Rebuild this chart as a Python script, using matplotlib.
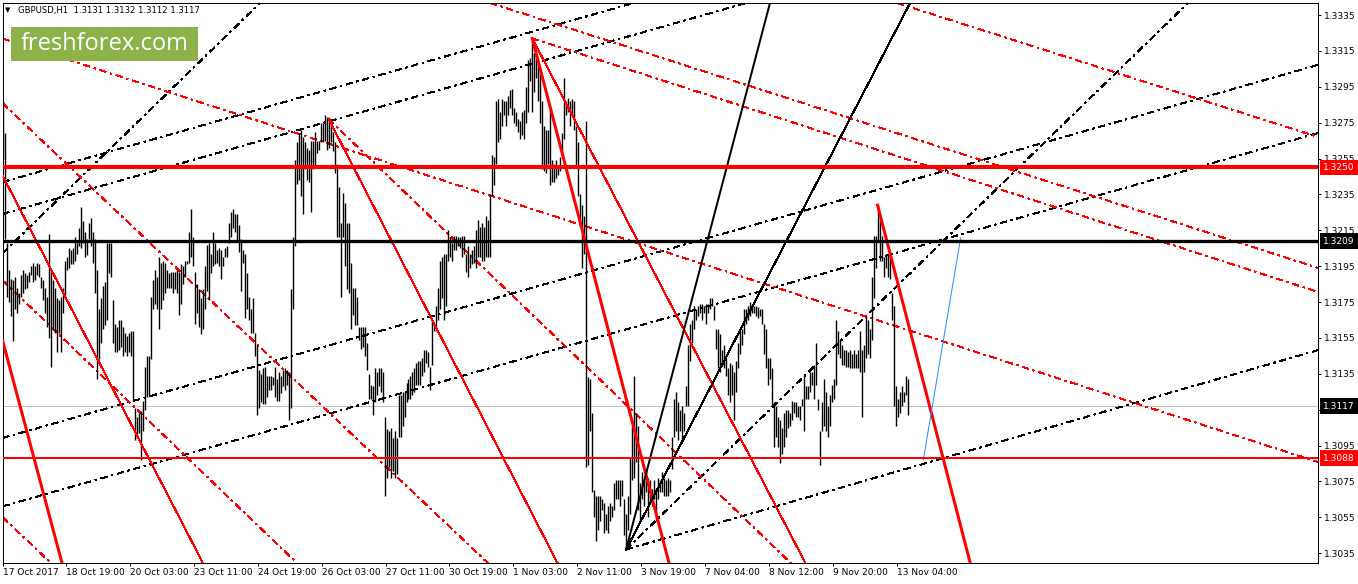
import numpy as np
import matplotlib
matplotlib.use("Agg")
import matplotlib.pyplot as plt
import matplotlib.transforms as mtransforms
from matplotlib.patches import Rectangle

# GBPUSD H1 bars, 17 Oct - 13 Nov 2017
# values are the quote's last four decimals: 3287 -> 1.3287
bar_high = [
    3287, 3269, 3208, 3193, 3188, 3187, 3189, 3183, 3180, 3190, 3193, 3191, 3190, 3192, 3195, 3197,
    3195, 3197, 3196, 3189, 3187, 3183, 3178, 3213, 3193, 3187, 3183, 3177, 3176, 3178, 3183, 3198,
    3200, 3205, 3204, 3205, 3211, 3208, 3216, 3228, 3220, 3214, 3210, 3219, 3222, 3214, 3210, 3193,
    3171, 3177, 3184, 3186, 3208, 3208, 3208, 3176, 3163, 3161, 3165, 3165, 3161, 3158, 3156, 3158,
    3159, 3159, 3116, 3111, 3113, 3114, 3120, 3139, 3145, 3145, 3178, 3187, 3193, 3189, 3200, 3197,
    3198, 3197, 3193, 3191, 3192, 3192, 3192, 3193, 3192, 3196, 3195, 3198, 3198, 3214,
    3227, 3211, 3192, 3185, 3182, 3177, 3182, 3195, 3207, 3208, 3202, 3214, 3208, 3204, 3205, 3204,
    3200, 3205, 3206, 3219, 3225, 3227, 3224, 3224, 3218, 3210, 3204, 3202, 3191, 3178, 3171, 3177,
    3158, 3151, 3137, 3135, 3138, 3139, 3134, 3134, 3134, 3133, 3139, 3132, 3136, 3134, 3137, 3138,
    3137, 3136, 3182, 3211, 3254, 3264, 3269, 3271, 3267, 3264, 3261, 3260, 3265, 3265, 3270, 3265,
    3265, 3275, 3275, 3279, 3278, 3278, 3276, 3270, 3264, 3252, 3239, 3219, 3236, 3230, 3219, 3219,
    3197, 3183, 3183, 3178, 3161, 3161, 3161, 3161, 3152, 3135, 3129, 3128,
    3138, 3136, 3138, 3138, 3136, 3111, 3104, 3103, 3105, 3099, 3103, 3099, 3123, 3123, 3125, 3125,
    3130, 3132, 3134, 3136, 3138, 3141, 3142, 3142, 3144, 3148, 3148, 3147, 3139, 3165, 3163, 3173,
    3183, 3198, 3200, 3202, 3202, 3215, 3211, 3208, 3212, 3212, 3211, 3211, 3212, 3212,
    3202, 3206, 3202, 3204, 3206, 3215, 3221, 3217, 3219, 3217, 3223, 3221, 3235, 3257, 3256, 3287,
    3288, 3281, 3288, 3287, 3287, 3290, 3293, 3294, 3283, 3281, 3277, 3276, 3281, 3282, 3295, 3310,
    3311, 3322, 3314, 3312, 3310, 3306, 3287, 3273, 3271, 3271, 3282, 3254, 3252, 3254, 3250, 3256,
    3269, 3300, 3287, 3289, 3287, 3288, 3287, 3273, 3264, 3235, 3229, 3223, 3276, 3133, 3132, 3113,
    3070, 3067, 3067, 3067, 3065, 3063, 3057, 3061, 3063, 3061, 3074, 3076, 3076, 3076, 3076, 3065,
    3057, 3067, 3088, 3106, 3134, 3113, 3106, 3074, 3080, 3076, 3082, 3077, 3076, 3071, 3076, 3071,
    3077, 3076, 3080, 3077, 3076, 3077, 3076, 3100, 3121, 3125, 3119, 3115, 3117, 3113, 3128, 3151,
    3163, 3165, 3173, 3171, 3173,
    3174, 3174, 3173, 3174, 3174, 3177, 3177, 3173, 3160, 3160, 3157, 3148, 3151, 3144, 3138, 3141,
    3140, 3136, 3142, 3152, 3159, 3160, 3171, 3171, 3173, 3175, 3174, 3173, 3173, 3172, 3171, 3171,
    3163, 3160, 3144, 3144, 3138, 3119, 3117, 3111, 3109, 3105, 3113, 3115, 3115, 3113, 3120, 3119,
    3119, 3117, 3117, 3121, 3134, 3128, 3128, 3136, 3136, 3140, 3152, 3121, 3103, 3119, 3132, 3125,
    3117, 3123, 3129, 3132, 3165, 3159, 3154, 3151, 3148, 3148, 3147, 3148, 3146, 3148, 3146, 3148,
    3159, 3148, 3151, 3167, 3165, 3160, 3189, 3212, 3212, 3229, 3223, 3212, 3200, 3202, 3202, 3200,
    3180, 3173, 3128, 3121, 3125, 3128, 3125, 3134, 3132,
]
bar_low = [
    3255, 3210, 3178, 3175, 3167, 3153, 3171, 3169, 3174, 3178, 3180, 3182, 3183, 3186, 3190, 3186,
    3187, 3190, 3189, 3183, 3176, 3169, 3161, 3155, 3139, 3160, 3158, 3147, 3158, 3147, 3169, 3177,
    3193, 3194, 3196, 3196, 3198, 3202, 3206, 3205, 3208, 3200, 3201, 3210, 3206, 3197, 3180, 3132,
    3143, 3152, 3160, 3162, 3165, 3191, 3189, 3152, 3147, 3147, 3148, 3150, 3145, 3147, 3145, 3147,
    3145, 3120, 3098, 3099, 3102, 3087, 3103, 3115, 3122, 3123, 3143, 3171, 3174, 3171, 3160, 3171,
    3176, 3180, 3183, 3183, 3183, 3180, 3182, 3180, 3168, 3174, 3185, 3189, 3196, 3197,
    3200, 3195, 3163, 3169, 3161, 3157, 3160, 3171, 3181, 3176, 3191, 3195, 3196, 3197, 3195, 3188,
    3195, 3200, 3200, 3208, 3211, 3216, 3214, 3209, 3203, 3181, 3197, 3166, 3171, 3165, 3158, 3158,
    3145, 3112, 3116, 3119, 3118, 3118, 3122, 3126, 3126, 3129, 3122, 3120, 3120, 3124, 3128, 3126,
    3129, 3109, 3116, 3171, 3206, 3241, 3243, 3234, 3224, 3249, 3243, 3242, 3225, 3249, 3250, 3258,
    3260, 3264, 3264, 3265, 3260, 3261, 3264, 3259, 3247, 3211, 3211, 3178, 3211, 3195, 3182, 3180,
    3160, 3168, 3162, 3162, 3154, 3149, 3150, 3145, 3137, 3121, 3121, 3112,
    3119, 3123, 3128, 3125, 3119, 3067, 3077, 3083, 3077, 3081, 3077, 3079, 3100, 3100, 3106, 3111,
    3119, 3121, 3121, 3123, 3125, 3129, 3129, 3129, 3134, 3136, 3141, 3139, 3126, 3140, 3159, 3159,
    3165, 3171, 3177, 3165, 3173, 3198, 3200, 3198, 3204, 3204, 3206, 3205, 3200, 3202,
    3192, 3189, 3194, 3196, 3197, 3194, 3200, 3200, 3198, 3198, 3200, 3200, 3200, 3234, 3240, 3252,
    3264, 3266, 3273, 3279, 3273, 3279, 3283, 3279, 3275, 3273, 3270, 3266, 3268, 3266, 3275, 3281,
    3298, 3281, 3292, 3300, 3287, 3275, 3249, 3248, 3247, 3252, 3240, 3242, 3242, 3244, 3246, 3248,
    3256, 3266, 3279, 3281, 3273, 3279, 3271, 3250, 3234, 3217, 3194, 3202, 3083, 3084, 3103, 3069,
    3055, 3042, 3048, 3053, 3059, 3046, 3048, 3046, 3053, 3055, 3059, 3065, 3065, 3061, 3067, 3045,
    3037, 3048, 3057, 3076, 3077, 3086, 3059, 3053, 3065, 3061, 3069, 3055, 3063, 3061, 3065, 3053,
    3065, 3069, 3069, 3067, 3067, 3067, 3069, 3082, 3100, 3103, 3098, 3103, 3098, 3103, 3117, 3117,
    3142, 3152, 3160, 3165, 3167,
    3169, 3165, 3169, 3163, 3169, 3171, 3173, 3165, 3149, 3138, 3136, 3140, 3138, 3134, 3123, 3119,
    3123, 3109, 3125, 3138, 3146, 3151, 3157, 3163, 3165, 3167, 3169, 3169, 3167, 3166, 3167, 3163,
    3146, 3138, 3129, 3132, 3117, 3094, 3100, 3094, 3085, 3090, 3094, 3100, 3105, 3106, 3109, 3113,
    3111, 3111, 3109, 3117, 3103, 3121, 3121, 3125, 3129, 3121, 3129, 3115, 3084, 3103, 3106, 3103,
    3100, 3106, 3119, 3121, 3129, 3146, 3144, 3140, 3140, 3139, 3139, 3138, 3138, 3138, 3138, 3138,
    3136, 3111, 3136, 3144, 3146, 3144, 3154, 3177, 3194, 3209, 3198, 3198, 3189, 3194, 3189, 3188,
    3165, 3117, 3106, 3111, 3113, 3117, 3119, 3123, 3112,
]

date_labels = ["17 Oct 2017", "18 Oct 19:00", "20 Oct 03:00", "23 Oct 11:00", "24 Oct 19:00",
               "26 Oct 03:00", "27 Oct 11:00", "30 Oct 19:00", "1 Nov 03:00", "2 Nov 11:00",
               "3 Nov 19:00", "7 Nov 04:00", "8 Nov 12:00", "9 Nov 20:00", "13 Nov 04:00"]
price_ticks = [1.3335, 1.3315, 1.3295, 1.3275, 1.3255, 1.3235, 1.3215, 1.3195,
               1.3175, 1.3155, 1.3135, 1.3115, 1.3095, 1.3075, 1.3055, 1.3035]

level_resist = 1.3250
level_pivot = 1.3209
level_support = 1.3088
last_price = 1.3117
header = "GBPUSD,H1  1.3131 1.3132 1.3112 1.3117"

# pivots (bar, price) the trend lines start from
peak_oct26 = (163, 1.3277)
peak_nov1 = (265, 1.3322)
low_nov2 = (312, 1.3037)
peak_nov10 = (438, 1.3229)

# trend lines: anchor points (bar, price)
red_thick_left = [(-0.3, 1.31533), (29.3, 1.30300)]
red_thin_left = [(0, 1.32447), (100, 1.30295)]
chan_black = [[(0, 1.30612), (658.7, 1.32692)],
              [(0, 1.30993), (658.7, 1.33072)],
              [(0, 1.32242), (400, 1.33505)],
              [(0, 1.32420), (400, 1.33683)],
              [(0, 1.32025), (127.6, 1.33406)]]
chan_red = [[(0, 1.33217), (658.7, 1.30858)],
            [(242.3, 1.33423), (658.7, 1.31940)],
            [(449.2, 1.33412), (658.7, 1.32670)],
            [(0, 1.32854), (243.8, 1.30284)],
            [(0, 1.31867), (148.1, 1.30284)],
            [(0, 1.30546), (23.4, 1.30300)]]
blue_seg = [(460.9, 1.30869), (479.6, 1.32107)]

fig = plt.figure(figsize=(13.58, 5.84), dpi=100)
ax = fig.add_axes([2.7 / 1358, 21 / 584, 1315.6 / 1358, 560 / 584])

dashdot = (0, (6, 5, 2, 5))
px = 0.72  # one pixel in points


def ray(p0, p1, **kw):
    # MT4 style ray: from p0 through p1 and on past the edge
    (x0, y0), (x1, y1) = p0, p1
    ax.plot([x0, x0 + 50 * (x1 - x0)], [y0, y0 + 50 * (y1 - y0)], **kw)


# dash-dot channel lines
for p0, p1 in chan_black:
    ax.axline(p0, p1, color="black", lw=px, ls=dashdot, antialiased=False, zorder=2)
ray(low_nov2, (658.7, 1.31482), color="black", lw=px, ls=dashdot, antialiased=False, zorder=2)
ray(low_nov2, (593.0, 1.33412), color="black", lw=px, ls=dashdot, antialiased=False, zorder=2)
for p0, p1 in chan_red:
    ax.axline(p0, p1, color="red", lw=px, ls=dashdot, antialiased=False, zorder=2)
ray(peak_nov1, (658.7, 1.31806), color="red", lw=px, ls=dashdot, antialiased=False, zorder=2)
ray(peak_oct26, (394.1, 1.30300), color="red", lw=px, ls=dashdot, antialiased=False, zorder=2)

# price bars (high-low sticks)
hi = 1 + np.array(bar_high) / 10000
lo = 1 + np.array(bar_low) / 10000
idx = np.arange(len(hi))
ax.vlines(idx, lo, hi, colors="black", linewidths=1.0, zorder=3)

# solid trend lines
ax.axline(*red_thick_left, color="red", lw=3 * px, zorder=4)
ray(peak_nov1, (333.0, 1.30317), color="red", lw=3 * px, zorder=4)
ray(peak_nov10, (484.3, 1.30300), color="red", lw=3 * px, zorder=4)
ax.axline(*red_thin_left, color="red", lw=px, antialiased=False, zorder=4)
ray(peak_oct26, (277.4, 1.30300), color="red", lw=px, antialiased=False, zorder=4)
ray(peak_nov1, (401.6, 1.30300), color="red", lw=px, antialiased=False, zorder=4)
ray(low_nov2, (384.1, 1.33417), color="black", lw=2 * px, zorder=4)
ray(low_nov2, (454.3, 1.33417), color="black", lw=px, antialiased=False, zorder=4)
ax.plot(*zip(*blue_seg), color="#1e90ff", lw=px, zorder=4)

# horizontal levels
ax.axhline(last_price, color="#c0c0c0", lw=px, zorder=1)
ax.axhline(level_resist, color="red", lw=4 * px, zorder=5)
ax.axhline(level_pivot, color="black", lw=3.3 * px, zorder=5)
ax.axhline(level_support, color="red", lw=2 * px, zorder=5)

ax.set_xlim(-0.3, 658.8)
ax.set_ylim(1.30295, 1.33417)

for s in ax.spines.values():
    s.set_color("black")
    s.set_linewidth(px)

tick_bars = [0] + [31.5 + 32 * k for k in range(len(date_labels) - 1)]
ax.set_xticks(tick_bars)
ax.set_xticklabels(date_labels)
for lab in ax.get_xticklabels():
    lab.set_ha("left")
ax.tick_params(axis="x", direction="out", length=2.5, width=px, pad=1,
               labelsize=6.5, labelcolor="black")

# the 1.3115 label sits under the live price tag, as on the terminal
ax.yaxis.tick_right()
ax.set_yticks(price_ticks)
ax.set_yticklabels(["" if abs(v - last_price) < 0.0005 else f"{v:.4f}" for v in price_ticks])
ax.tick_params(axis="y", direction="out", length=2.5, width=px, pad=1.5, labelsize=6.5)

# price tags on the scale
trans = mtransforms.blended_transform_factory(ax.transAxes, ax.transData)
for val, fc in [(level_resist, "red"), (level_pivot, "black"),
                (last_price, "black"), (level_support, "red")]:
    ax.text(1.0036, val, f"{val:.4f}", transform=trans, ha="left", va="center",
            fontsize=6.5, color="white", clip_on=False, zorder=10,
            bbox=dict(boxstyle="square,pad=0.35", fc=fc, ec="none"))

# header and logo
fig.text(5 / 1358, 1 - 10.5 / 584, "\u25bc", fontsize=5, va="center", ha="left")
fig.text(18 / 1358, 1 - 10.5 / 584, header, fontsize=6.1, va="center", ha="left")
fig.patches.append(Rectangle((11 / 1358, 1 - 61 / 584), 187 / 1358, 34 / 584,
                             transform=fig.transFigure, fc="#8db24a", ec="none", zorder=20))
fig.text(104.5 / 1358, 1 - 44 / 584, "freshforex.com", fontsize=17, family="Open Sans",
         color="white", ha="center", va="center", zorder=21)

fig.savefig("out.png", dpi=100)
